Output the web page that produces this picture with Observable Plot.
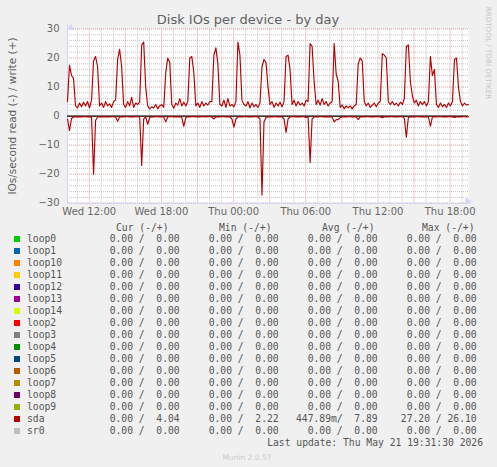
<!DOCTYPE html>
<html><head><meta charset="utf-8">
<script src="https://cdn.jsdelivr.net/npm/d3@7"></script>
<script src="https://cdn.jsdelivr.net/npm/@observablehq/plot@0.6"></script>
<style>
html,body{margin:0;padding:0;background:#f0f0f0;}
#wrap{position:relative;width:497px;height:467px;overflow:hidden;font-family:"DejaVu Sans",sans-serif;color:#666;}
.abs{position:absolute;white-space:pre;}
.mono{font-family:"DejaVu Sans Mono",monospace;font-size:9.7px;line-height:12px;height:12px;color:#555;}
.sw{position:absolute;width:6px;height:6px;}
</style></head><body><div id="wrap"></div>
<script>
// ---- data ----
const title = "Disk IOs per device - by day";
const yLabel = "IOs/second read (-) / write (+)";
const startTime = "2026-05-20T10:11:30Z";
const stepMinutes = 10;
// sda write IOs/s (plotted upward), one sample per 10 minutes
const sdaWrite = [
5,17.5,14,13,3.5,2.8,4.5,3.2,4.8,3.5,5,2.8,5.5,19,20.5,17,3.5,4.5,3,5,
3.5,4.2,3,5,5.5,19.5,23,17,4,3,5,3.5,6.5,3,4.5,4,4.8,24.5,25.5,10,
3.5,2.5,3.2,2.8,4,2.5,3.5,4,3,15,20,18.5,4,2.7,4.5,3.8,6,3.5,4.8,3.5,
5,20,20.5,15,3.5,4.5,3,5,3.5,4.5,3.8,5,5,21,23.5,18,4,3.5,5.5,3,
6,3.5,4,3.2,5,25.5,21,5.5,4,3.5,5,2.8,4.5,3.2,4,3,4.5,17,19.5,18.5,
10,4,5,3,4.5,3.5,4.8,3.2,5,20.5,21,16,4,5.5,3.5,5,3.8,4.5,3.5,5.5,
5,25,24,12,4,5.5,3.8,6,4,5,3.5,4.5,5,25,14.5,12,3,3.8,2.5,3.5,
2.8,3.5,2.5,3.5,4,18,20,19,5,3.5,4.5,3,3.8,4.5,3.2,4.5,5,21.5,21,20,
5,4,5,3.8,4.5,3.5,4.8,4,6,24,24.5,12,7,4.5,5.5,3.5,5,4,5,3.5,
5,20.5,14,16,4,3,4.5,3.2,4,3,4.5,3.5,5,19.5,20,10,5,3.5,4.5,3.8,4
];
// sda read IOs/s (plotted downward), one sample per 10 minutes
const sdaRead = [
1,5,0.8,0.3,0.2,0.3,0.2,0.3,0.2,0.2,0.3,0.2,0.5,20,1.5,0.3,0.2,0.3,0.2,0.3,
0.2,0.3,0.2,0.2,0.3,1.8,0.3,0.2,0.3,0.2,0.2,0.3,0.2,0.3,0.2,0.2,0.3,17,1,0.3,
2.8,0.5,0.2,0.3,0.2,0.2,0.3,0.2,0.3,2,0.3,0.2,0.2,0.3,0.2,0.3,0.2,0.5,3.5,0.5,
0.2,0.3,0.2,0.2,0.3,0.2,0.3,0.2,0.2,0.3,0.2,0.2,0.3,1,0.3,0.2,0.3,0.2,0.2,0.3,
0.2,0.3,1,3.8,1,0.3,0.2,0.3,0.2,0.2,0.3,0.2,0.3,0.2,0.2,0.3,1,27.2,2,0.5,
0.3,0.2,0.3,0.2,0.2,0.3,0.2,0.3,1,5.6,1,0.3,0.2,0.2,0.3,0.2,0.3,0.2,0.2,0.5,
0.3,16,1,0.3,0.2,0.3,0.2,0.2,0.3,0.2,0.3,0.2,0.3,2,1.2,1.2,0.5,0.3,0.2,0.3,
0.2,0.2,0.3,0.2,0.3,1.2,0.3,0.2,0.3,0.2,0.2,0.3,0.2,0.3,0.2,0.2,0.3,0.6,0.3,0.2,
0.3,0.2,0.2,0.3,0.2,0.3,0.2,0.2,0.8,7.3,0.5,0.3,0.2,0.3,0.2,0.2,0.3,0.2,0.3,0.2,
0.3,3.5,0.3,0.2,0.3,0.2,0.2,0.3,0.2,0.3,0.2,0.2,0.3,0.5,0.3,0.2,0.3,0.2,0.2,0.3,0.2
];
const yTicks = [-30,-20,-10,0,10,20,30];
const yMinorStep = 2;
const xTickTimes = ["2026-05-20T12:00:00Z","2026-05-20T18:00:00Z","2026-05-21T00:00:00Z","2026-05-21T06:00:00Z","2026-05-21T12:00:00Z","2026-05-21T18:00:00Z"];
const xTickLabels = ["Wed 12:00","Wed 18:00","Thu 00:00","Thu 06:00","Thu 12:00","Thu 18:00"];

const devices = ["loop0","loop1","loop10","loop11","loop12","loop13","loop14","loop2","loop3","loop4","loop5","loop6","loop7","loop8","loop9","sda","sr0"];
const devColors = ["#00CC00","#0066B3","#FF8000","#FFCC00","#330099","#990099","#CCFF00","#FF0000","#808080","#008F00","#00487D","#B35A00","#B38F00","#6B006B","#8FB300","#B30000","#BEBEBE"];
const curRead  = [0,0,0,0,0,0,0,0,0,0,0,0,0,0,0,0,0];
const curWrite = [0,0,0,0,0,0,0,0,0,0,0,0,0,0,0,4.04,0];
const minRead  = [0,0,0,0,0,0,0,0,0,0,0,0,0,0,0,0,0];
const minWrite = [0,0,0,0,0,0,0,0,0,0,0,0,0,0,0,2.22,0];
const avgRead  = [0,0,0,0,0,0,0,0,0,0,0,0,0,0,0,0.44789,0];
const avgWrite = [0,0,0,0,0,0,0,0,0,0,0,0,0,0,0,7.89,0];
const maxRead  = [0,0,0,0,0,0,0,0,0,0,0,0,0,0,0,27.20,0];
const maxWrite = [0,0,0,0,0,0,0,0,0,0,0,0,0,0,0,26.10,0];
const colHeaders = ["Cur (-/+)","Min (-/+)","Avg (-/+)","Max (-/+)"];
const lastUpdate = "Last update: Thu May 21 19:31:30 2026";
const version = "Munin 2.0.57";
const watermark = "RRDTOOL / TOBI OETIKER";

// ---- build ----
const t0 = new Date(startTime);
const series = sdaWrite.map((w, i) => ({t: new Date(+t0 + i * stepMinutes * 60000), w, r: sdaRead[i]}));
const tEnd = series[series.length - 1].t;
const xTicks = xTickTimes.map(s => new Date(s));
const labelOf = new Map(xTicks.map((d, i) => [+d, xTickLabels[i]]));
const yMinor = d3.range(-30, 30 + 1e-9, yMinorStep).filter(v => v % 10 !== 0);
const xMajor = d3.utcHour.every(3).range(t0, tEnd);
const xMinor = d3.utcHour.every(1).range(t0, tEnd).filter(d => d.getUTCHours() % 3 !== 0);

const H = 222;
const plot = Plot.plot({
  width: 497, height: H,
  marginLeft: 67, marginRight: 29, marginTop: 28.5, marginBottom: H - 202.7,
  style: {background: "transparent", fontFamily: "DejaVu Sans", fontSize: "10px", color: "#666", overflow: "visible"},
  x: {type: "utc", domain: [t0, tEnd]},
  y: {domain: [-30, 30]},
  marks: [
    Plot.frame({fill: "white", stroke: "none"}),
    Plot.ruleY(yMinor, {stroke: "#c4c4c4", strokeDasharray: "1,1"}),
    Plot.ruleX(xMinor, {stroke: "#c4c4c4", strokeDasharray: "1,1"}),
    Plot.ruleY(yTicks, {stroke: "#e09a9a", strokeDasharray: "1,1"}),
    Plot.ruleX(xMajor, {stroke: "#e09a9a", strokeDasharray: "1,1"}),
    Plot.ruleX([t0], {stroke: "#cfd6f8", insetTop: -5}),
    Plot.ruleY([-30], {stroke: "#cfd6f8", insetRight: -3}),
    Plot.text(["▲"], {frameAnchor: "top-left", dy: -6, fill: "#cfd6f8", fontSize: 8}),
    Plot.text(["▶"], {frameAnchor: "bottom-right", dx: 3, fill: "#cfd6f8", fontSize: 8}),
    Plot.ruleY([0], {stroke: "#000", strokeWidth: 1.2}),
    Plot.line(series, {x: "t", y: d => -d.r, stroke: "#b30000", strokeWidth: 1.15}),
    Plot.line(series, {x: "t", y: "w", stroke: "#b30000", strokeWidth: 1.15}),
    Plot.axisY(yTicks, {tickSize: 0, tickPadding: 8, label: null, fill: "#666"}),
    Plot.axisX(xTicks, {tickSize: 0, tickPadding: 5, label: null, fill: "#666", tickFormat: d => labelOf.get(+d)})
  ]
});
plot.style.position = "absolute";
plot.style.left = "0px";
plot.style.top = "0px";
const wrap = document.getElementById("wrap");
wrap.appendChild(plot);

function addDiv(cls, text, css) {
  const d = document.createElement("div");
  d.className = cls;
  d.textContent = text;
  Object.assign(d.style, css);
  wrap.appendChild(d);
  return d;
}
addDiv("abs", title, {left: "248px", top: "19px", transform: "translate(-50%,-50%)", fontSize: "13px", color: "#606060"});
addDiv("abs", yLabel, {left: "12px", top: "116px", transform: "translate(-50%,-50%) rotate(-90deg)", fontSize: "10.5px", color: "#606060"});
addDiv("abs", watermark, {left: "488px", top: "53px", transform: "translate(-50%,-50%) rotate(90deg)", fontSize: "7.2px", color: "#c8c8c8"});

function fmt(v) {
  if (v !== 0 && Math.abs(v) < 1) return (v * 1000).toFixed(2).padStart(6) + "m";
  return v.toFixed(2).padStart(6) + " ";
}
const cellX = [98, 197, 296, 395];
const headX = [116, 219, 322, 422];
const rowY0 = 239.3, rowStep = 12.0;
colHeaders.forEach((h, j) => addDiv("abs mono", h, {left: headX[j] + "px", top: (227.5 - 6) + "px"}));
devices.forEach((name, i) => {
  const cy = rowY0 + i * rowStep;
  const sw = document.createElement("div");
  sw.className = "sw";
  Object.assign(sw.style, {left: "14px", top: (cy - 3) + "px", background: devColors[i]});
  wrap.appendChild(sw);
  addDiv("abs mono", name, {left: "27px", top: (cy - 6) + "px"});
  const cells = [
    fmt(curRead[i]) + "/" + fmt(curWrite[i]),
    fmt(minRead[i]) + "/" + fmt(minWrite[i]),
    fmt(avgRead[i]) + "/" + fmt(avgWrite[i]),
    fmt(maxRead[i]) + "/" + fmt(maxWrite[i])
  ];
  cells.forEach((c, j) => addDiv("abs mono", c, {left: cellX[j] + "px", top: (cy - 6) + "px"}));
});
addDiv("abs mono", lastUpdate, {right: (497 - 483) + "px", top: (443.3 - 6) + "px"});
addDiv("abs", version, {left: "247px", top: "456.7px", transform: "translate(-50%,-50%)", fontSize: "7.5px", color: "#cccccc"});
</script></body></html>
